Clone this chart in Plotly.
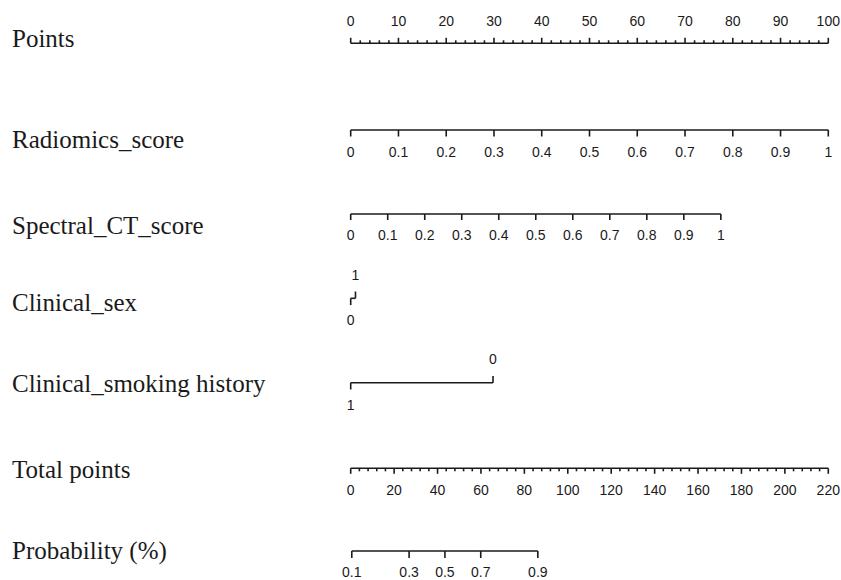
import plotly.graph_objects as go

# ---------------- data ----------------
points_ticks = [0, 10, 20, 30, 40, 50, 60, 70, 80, 90, 100]

radiomics_values = [0, 0.1, 0.2, 0.3, 0.4, 0.5, 0.6, 0.7, 0.8, 0.9, 1]
radiomics_points = [0, 10, 20, 30, 40, 50, 60, 70, 80, 90, 100]

spectral_values = [0, 0.1, 0.2, 0.3, 0.4, 0.5, 0.6, 0.7, 0.8, 0.9, 1]
spectral_points = [0, 7.75, 15.5, 23.25, 31, 38.75, 46.5, 54.25, 62, 69.75, 77.5]

sex_levels = ["0", "1"]
sex_points = [0, 1.0]

smoking_levels = ["0", "1"]
smoking_points = [29.8, 0]

total_ticks = [0, 20, 40, 60, 80, 100, 120, 140, 160, 180, 200, 220]

prob_values = [0.1, 0.3, 0.5, 0.7, 0.9]
prob_total_points = [0.5, 26.9, 43.4, 59.9, 86.2]

row_labels = ["Points", "Radiomics_score", "Spectral_CT_score", "Clinical_sex",
              "Clinical_smoking history", "Total points", "Probability (%)"]

# ---------------- layout helpers ----------------
W, H = 841, 580
X0_PX, X100_PX = 350.7, 828.3
ppx = (X100_PX - X0_PX) / 100.0
x_range = [-X0_PX / ppx, (W - X0_PX) / ppx]
total_scale = points_ticks[-1] / total_ticks[-1]

LINE_COLOR = "#1a1a1a"
TICK_FONT = dict(family="Liberation Sans, Arial, sans-serif", size=14, color="#1a1a1a")
LABEL_FONT = dict(family="Liberation Serif, Times New Roman, serif", size=25, color="#1a1a1a")

lx, ly = [], []
tx, ty, tt = [], [], []


def seg(x0, y0, x1, y1):
    lx.extend([x0, x1, None])
    ly.extend([y0, y1, None])


def fmt(v):
    return f"{v:g}"


# Points row (ticks up, labels above)
y_pts = 43.3
seg(points_ticks[0], y_pts, points_ticks[-1], y_pts)
minor_step = 2
p = points_ticks[0]
while p <= points_ticks[-1] + 1e-9:
    major = abs(p - round(p / 10) * 10) < 1e-9
    seg(p, y_pts, p, y_pts - (5.5 if major else 3))
    p += minor_step
for v in points_ticks:
    tx.append(v); ty.append(22.5); tt.append(fmt(v))


def down_axis(vals, pts, y_line, y_lab, tick=6.5):
    seg(pts[0], y_line, pts[-1], y_line)
    for v, q in zip(vals, pts):
        seg(q, y_line, q, y_line + tick)
        tx.append(q); ty.append(y_lab); tt.append(fmt(v))


down_axis(radiomics_values, radiomics_points, 130.0, 153.0)
down_axis(spectral_values, spectral_points, 214.0, 236.5, tick=6)


def cat_axis(levels, pts, sides, y_line, y_above, y_below, tick=6.8):
    seg(min(pts), y_line, max(pts), y_line)
    for lev, q, s in zip(levels, pts, sides):
        if s == "above":
            seg(q, y_line, q, y_line - tick)
            tx.append(q); ty.append(y_above); tt.append(lev)
        else:
            seg(q, y_line, q, y_line + tick)
            tx.append(q); ty.append(y_below); tt.append(lev)


cat_axis(sex_levels, sex_points, ["below", "above"], 298.3, 276.0, 321.7)
cat_axis(smoking_levels, smoking_points, ["above", "below"], 382.7, 360.0, 406.5)

# Total points row
y_tot = 468.3
seg(total_ticks[0] * total_scale, y_tot, total_ticks[-1] * total_scale, y_tot)
t = total_ticks[0]
while t <= total_ticks[-1] + 1e-9:
    major = abs(t - round(t / 20) * 20) < 1e-9
    seg(t * total_scale, y_tot, t * total_scale, y_tot + (5.5 if major else 3))
    t += 4
for v in total_ticks:
    tx.append(v * total_scale); ty.append(491.7); tt.append(fmt(v))

# Probability row
y_prob = 551.0
seg(prob_total_points[0] * total_scale, y_prob, prob_total_points[-1] * total_scale, y_prob)
for v, q in zip(prob_values, prob_total_points):
    seg(q * total_scale, y_prob, q * total_scale, y_prob + 7)
    tx.append(q * total_scale); ty.append(573.0); tt.append(fmt(v))

fig = go.Figure()
fig.add_trace(go.Scatter(x=lx, y=ly, mode="lines",
                         line=dict(color=LINE_COLOR, width=1.6),
                         hoverinfo="skip", showlegend=False))
fig.add_trace(go.Scatter(x=tx, y=ty, mode="text", text=tt,
                         textposition="middle center", textfont=TICK_FONT,
                         hoverinfo="skip", showlegend=False, cliponaxis=False))

label_y = [38, 139, 225, 302, 383, 469, 551]
for lab, yy in zip(row_labels, label_y):
    fig.add_annotation(x=10 / W, xref="paper", y=yy, yref="y", text=lab,
                       showarrow=False, xanchor="left", yanchor="middle",
                       font=LABEL_FONT)

fig.update_layout(
    width=W, height=H,
    margin=dict(l=0, r=0, t=0, b=0),
    paper_bgcolor="white", plot_bgcolor="white",
    xaxis=dict(range=x_range, visible=False, fixedrange=True),
    yaxis=dict(range=[H, 0], visible=False, fixedrange=True),
)

fig.write_html(
    "out.html",
    config={"displayModeBar": False, "staticPlot": True},
    post_script="document.body.style.margin='0px';document.body.style.overflow='hidden';",
)
